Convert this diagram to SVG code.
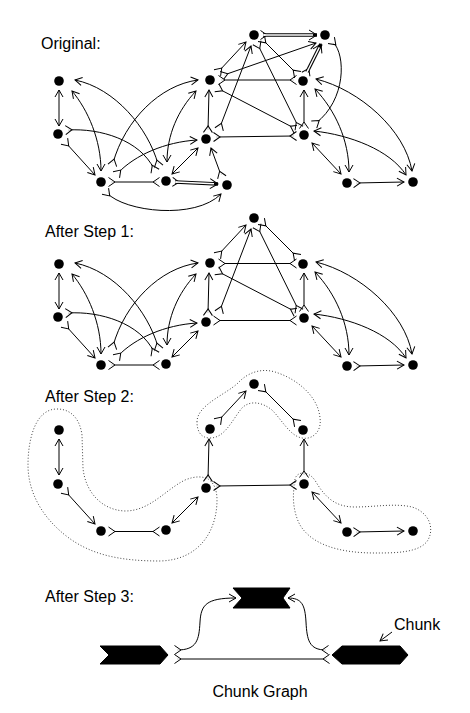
<svg xmlns="http://www.w3.org/2000/svg" width="470" height="713" viewBox="0 0 470 713">
<style>
.lbl{font-family:"Liberation Sans",Arial,sans-serif;font-size:16px;fill:#000}
.n{fill:#000}
.e{fill:none;stroke:#000;stroke-width:1}
.sa{marker-start:url(#ar)}
.ea{marker-end:url(#ar)}
.sf{marker-start:url(#fk)}
.ef{marker-end:url(#fk)}
.eb{marker-end:url(#ab)}
.dbo{fill:none;stroke:#000;stroke-width:3.6}
.dbi{fill:none;stroke:#fff;stroke-width:1.4}
.blob{fill:none;stroke:#444;stroke-width:1;stroke-dasharray:1 2}
.chunk{fill:#000;stroke:#000;stroke-width:1}
</style>
<defs>
<marker id="ar" viewBox="-10 -6 12 12" refX="0" refY="0" markerWidth="12" markerHeight="12" markerUnits="userSpaceOnUse" orient="auto-start-reverse"><path d="M-7,-4 L0,0 L-7,4" fill="none" stroke="#000" stroke-width="1"/></marker>
<marker id="ab" viewBox="-10 -7 12 14" refX="0" refY="0" markerWidth="12" markerHeight="14" markerUnits="userSpaceOnUse" orient="auto-start-reverse"><path d="M-8,-5 L0,0 L-8,5" fill="none" stroke="#000" stroke-width="1"/></marker>
<marker id="fk" viewBox="-8 -6 14 12" refX="0" refY="0" markerWidth="14" markerHeight="12" markerUnits="userSpaceOnUse" orient="auto-start-reverse"><path d="M0.5,0 L-3.8,0" fill="none" stroke="#fff" stroke-width="1.6"/><path d="M2.5,-4.5 L-4,0 L2.5,4.5" fill="none" stroke="#000" stroke-width="1"/></marker>
</defs>

<text class="lbl" x="41" y="49">Original:</text>
<text class="lbl" x="45" y="237">After Step 1:</text>
<text class="lbl" x="45" y="402">After Step 2:</text>
<text class="lbl" x="45" y="602">After Step 3:</text>
<text class="lbl" x="260" y="697" text-anchor="middle">Chunk Graph</text>
<text class="lbl" x="394" y="630">Chunk</text>

<!-- ORIGINAL connectors -->
<g id="connectors-original">
<path class="e sa ea" d="M59,90 L59,126"/>
<path class="e sa ea" d="M72,91 C88,110 101,140 101,171"/>
<path class="e sa ef" d="M75,80 C115,88 148,128 158,164"/>
<path class="e sf ef" d="M68,130 C100,128 140,140 154,169"/>
<path class="e sf ea" d="M66,143 L95,175"/>
<path class="e sf ef" d="M111,182 L157,182"/>
<path class="e sf ea" d="M113,163 C125,120 160,85 198,80"/>
<path class="e sf ea" d="M118,173 C135,155 165,142 197,140"/>
<path class="e sf ea" d="M107,193 C125,212 195,220 221,194"/>
<path class="e sa ea" d="M172,174 L198,148"/>
<path class="dbo sf eb" d="M175,182 L218,184"/>
<path class="dbi" d="M176,182 L214,183.8"/>
<path class="e sa ea" d="M196,91 C178,110 167,135 167,162"/>
<path class="e sf ea" d="M221,175 L211,148"/>
<path class="e sf ea" d="M208,130 L209,90"/>
<path class="e sf ef" d="M216,137 L294,136"/>
<path class="e sf ea" d="M220,127 L251,46"/>
<path class="e sf ea" d="M219,71 L246,42"/>
<path class="e sf ea" d="M224,75 L316,43"/>
<path class="e sf ef" d="M221,80 L294,80"/>
<path class="e sf ef" d="M219,89 L294,128"/>
<path class="e sf ef" d="M258,45 L298,126"/>
<path class="e sf ef" d="M263,40 L296,73"/>
<path class="dbo sf eb" d="M263,35 L317,35"/>
<path class="dbi" d="M264,35 L313,35"/>
<path class="dbo sf eb" d="M307,72 L321,44"/>
<path class="dbi" d="M307.5,71 L319.3,47.4"/>
<path class="e sf ef" d="M333,42 C346,55 346,100 316,123"/>
<path class="e sf ea" d="M304,126 L304,90"/>
<path class="e sa ea" d="M315,89 C335,110 349,140 349,172"/>
<path class="e sa ea" d="M316,79 C360,90 405,130 412,171"/>
<path class="e sa ea" d="M314,131 C350,135 390,150 406,175"/>
<path class="e sa ea" d="M312,143 L341,174"/>
<path class="e sf ea" d="M356,183 L404,182"/>
</g>

<g id="node-o-A"><circle class="n" cx="59" cy="81" r="4.8"/></g>
<g id="node-o-B"><circle class="n" cx="58" cy="134" r="4.8"/></g>
<g id="node-o-C"><circle class="n" cx="101" cy="182" r="4.8"/></g>
<g id="node-o-D"><circle class="n" cx="166" cy="181" r="4.8"/></g>
<g id="node-o-E"><circle class="n" cx="227" cy="185" r="4.8"/></g>
<g id="node-o-F"><circle class="n" cx="206" cy="139" r="4.8"/></g>
<g id="node-o-G"><circle class="n" cx="210" cy="80" r="4.8"/></g>
<g id="node-o-H"><circle class="n" cx="254" cy="35" r="4.8"/></g>
<g id="node-o-I"><circle class="n" cx="325" cy="35" r="4.8"/></g>
<g id="node-o-J"><circle class="n" cx="303" cy="81" r="4.8"/></g>
<g id="node-o-K"><circle class="n" cx="304" cy="135" r="4.8"/></g>
<g id="node-o-L"><circle class="n" cx="347" cy="183" r="4.8"/></g>
<g id="node-o-M"><circle class="n" cx="413" cy="182" r="4.8"/></g>

<!-- STEP 1 connectors -->
<g id="connectors-step1" transform="translate(0,183)">
<path class="e sa ea" d="M59,90 L59,126"/>
<path class="e sa ea" d="M72,91 C88,110 101,140 101,171"/>
<path class="e sa ef" d="M75,80 C115,88 148,128 158,164"/>
<path class="e sf ef" d="M68,130 C100,128 140,140 154,169"/>
<path class="e sf ea" d="M66,143 L95,175"/>
<path class="e sf ef" d="M111,182 L157,182"/>
<path class="e sf ea" d="M113,163 C125,120 160,85 198,80"/>
<path class="e sf ea" d="M118,173 C135,155 165,142 197,140"/>
<path class="e sa ea" d="M172,174 L198,148"/>
<path class="e sa ea" d="M196,91 C178,110 167,135 167,162"/>
<path class="e sf ea" d="M208,130 L209,90"/>
<path class="e sf ef" d="M216,137.5 L294,137.5"/>
<path class="e sf ea" d="M220,127 L251,46"/>
<path class="e sf ea" d="M219,71 L246,42"/>
<path class="e sf ef" d="M221,80.5 L294,80.5"/>
<path class="e sf ef" d="M219,89 L294,128"/>
<path class="e sf ef" d="M258,45 L298,126"/>
<path class="e sf ef" d="M263,40 L296,73"/>
<path class="e sf ea" d="M304,126 L304,90"/>
<path class="e sa ea" d="M315,89 C335,110 349,140 349,172"/>
<path class="e sa ea" d="M316,79 C360,90 405,130 412,171"/>
<path class="e sa ea" d="M314,131 C350,135 390,150 406,175"/>
<path class="e sa ea" d="M312,143 L341,174"/>
<path class="e sf ea" d="M356,183 L404,182"/>
</g>

<g id="node-s1-A"><circle class="n" cx="59" cy="264" r="4.8"/></g>
<g id="node-s1-B"><circle class="n" cx="58" cy="317" r="4.8"/></g>
<g id="node-s1-C"><circle class="n" cx="101" cy="365" r="4.8"/></g>
<g id="node-s1-D"><circle class="n" cx="166" cy="364" r="4.8"/></g>
<g id="node-s1-F"><circle class="n" cx="206" cy="322" r="4.8"/></g>
<g id="node-s1-G"><circle class="n" cx="210" cy="263" r="4.8"/></g>
<g id="node-s1-H"><circle class="n" cx="254" cy="218" r="4.8"/></g>
<g id="node-s1-J"><circle class="n" cx="303" cy="264" r="4.8"/></g>
<g id="node-s1-K"><circle class="n" cx="304" cy="318" r="4.8"/></g>
<g id="node-s1-L"><circle class="n" cx="347" cy="366" r="4.8"/></g>
<g id="node-s1-M"><circle class="n" cx="413" cy="365" r="4.8"/></g>

<!-- STEP 2 chunks outlines -->
<g id="chunk-outlines">
<path class="blob" d="M57,409 C72,409 80,420 82,435 L83,468 C85,490 100,510 125,511 C150,511 165,490 185,480 C205,472 217,480 217,500 C217,530 200,560 160,561 C120,561 90,555 65,535 C40,515 28,490 28,465 C28,440 35,409 57,409 Z"/>
<path class="blob" d="M197,422 C197,405 225,395 238,383 C248,372 262,368 275,372 C295,378 318,395 320,418 C322,432 312,440 302,438 C290,436 282,420 272,410 C262,402 250,400 242,408 C232,420 225,438 210,438 C200,438 197,430 197,422 Z"/>
<path class="blob" d="M295,483 C293,472 308,468 316,482 C325,497 335,507 355,507 C375,507 395,503 412,507 C428,512 435,527 428,540 C420,553 395,553 375,553 C340,553 312,545 300,525 C293,512 292,495 295,483 Z"/>
</g>

<!-- STEP 2 connectors -->
<g id="connectors-step2" transform="translate(0,349)">
<path class="e sa ea" d="M59,90 L59,126"/>
<path class="e sf ea" d="M66,143 L95,175"/>
<path class="e sf ef" d="M111,182.5 L157,182.5"/>
<path class="e sa ea" d="M172,174 L198,148"/>
<path class="e sf ea" d="M208,130 L209,90"/>
<path class="e sf ef" d="M216,137 L294,136"/>
<path class="e sf ea" d="M219,71 L246,42"/>
<path class="e sf ef" d="M263,40 L296,73"/>
<path class="e sf ea" d="M304,126 L304,90"/>
<path class="e sa ea" d="M312,143 L341,174"/>
<path class="e sf ea" d="M356,183 L404,182"/>
</g>

<g id="node-s2-A"><circle class="n" cx="59" cy="430" r="4.8"/></g>
<g id="node-s2-B"><circle class="n" cx="58" cy="484" r="4.8"/></g>
<g id="node-s2-C"><circle class="n" cx="101" cy="531" r="4.8"/></g>
<g id="node-s2-D"><circle class="n" cx="166" cy="530" r="4.8"/></g>
<g id="node-s2-F"><circle class="n" cx="206" cy="488" r="4.8"/></g>
<g id="node-s2-G"><circle class="n" cx="210" cy="429" r="4.8"/></g>
<g id="node-s2-H"><circle class="n" cx="254" cy="384" r="4.8"/></g>
<g id="node-s2-J"><circle class="n" cx="303" cy="430" r="4.8"/></g>
<g id="node-s2-K"><circle class="n" cx="304" cy="484" r="4.8"/></g>
<g id="node-s2-L"><circle class="n" cx="347" cy="532" r="4.8"/></g>
<g id="node-s2-M"><circle class="n" cx="413" cy="531" r="4.8"/></g>

<!-- STEP 3 -->
<g id="connectors-step3">
<path class="e sf ef" d="M177,659 L327,659"/>
<path class="e sf ea" d="M177,650 C197,650 199,640 200,622 C201,605 206,598 236,598"/>
<path class="e sf ea" d="M326,650 C309,650 307,640 306,622 C305,605 302,598 288,598"/>
<path class="e ea" d="M392,632 L380,641"/>
</g>
<g id="chunk-left"><polygon class="chunk" points="100,646 160,646 168,655 160,664 100,664 109,655"/></g>
<g id="chunk-top"><polygon class="chunk" points="233,588 290,588 283,598 290,608 233,608 242,598"/></g>
<g id="chunk-right"><polygon class="chunk" points="332,655 342,646 400,646 408,655 400,664 342,664"/></g>
</svg>
